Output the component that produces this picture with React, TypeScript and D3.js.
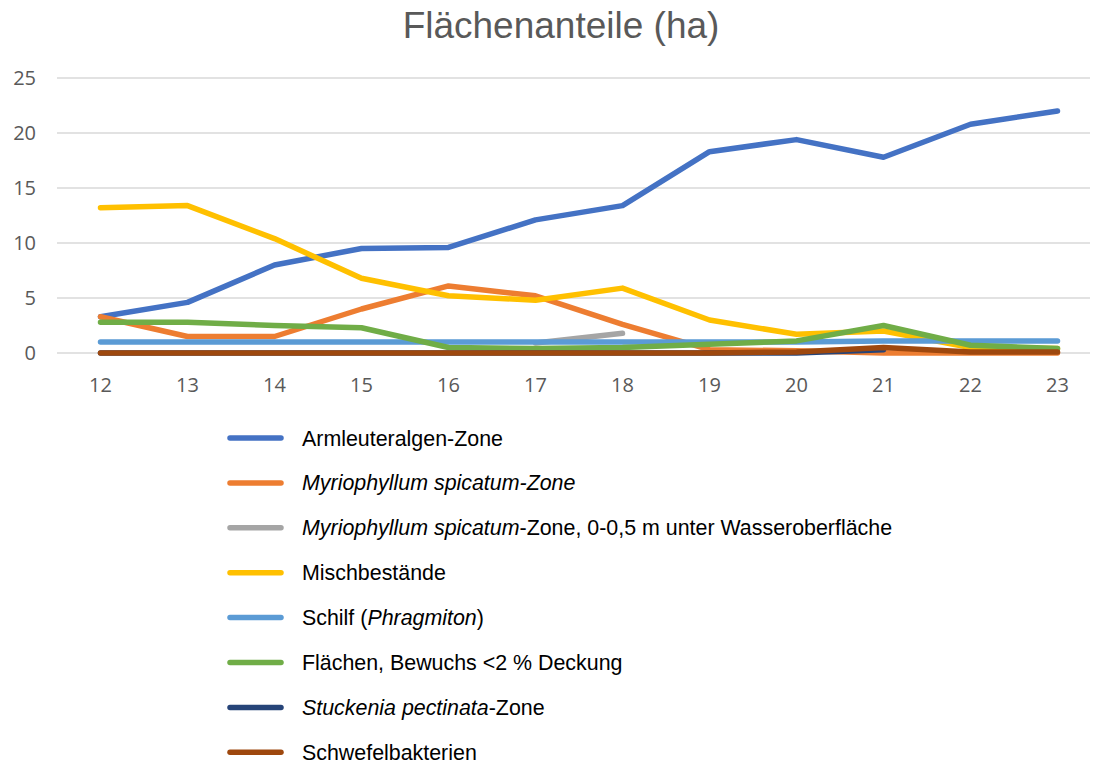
import * as d3 from "d3";
import { useEffect, useRef } from "react";

const years = ["12", "13", "14", "15", "16", "17", "18", "19", "20", "21", "22", "23"];
const yTicks = [0, 5, 10, 15, 20, 25];

const armleuteralgen = [3.3, 4.6, 8.0, 9.5, 9.6, 12.1, 13.4, 18.3, 19.4, 17.8, 20.8, 22.0];
const myriophyllum = [3.3, 1.5, 1.5, 4.0, 6.1, 5.2, 2.6, 0.3, 0.2, 0.0, 0.0, 0.0];
const myriophyllumShallow = [null, null, null, null, null, 0.9, 1.8, null, null, null, null, null];
const mischbestaende = [13.2, 13.4, 10.4, 6.8, 5.2, 4.8, 5.9, 3.0, 1.7, 2.0, 0.5, 0.4];
const schilf = [1.0, 1.0, 1.0, 1.0, 1.0, 1.0, 1.0, 1.0, 1.0, 1.1, 1.1, 1.1];
const flaechenBewuchs = [2.8, 2.8, 2.5, 2.3, 0.5, 0.4, 0.5, 0.8, 1.1, 2.5, 0.7, 0.4];
const stuckenia = [0, 0, 0, 0, 0, 0, 0, 0, 0.0, 0.3, null, null];
const schwefelbakterien = [0, 0, 0, 0, 0, 0, 0, 0, 0.1, 0.5, 0.1, 0.1];

type Part = { t: string; i?: boolean };

const series: { name: Part[]; color: string; values: (number | null)[] }[] = [
  { name: [{ t: "Armleuteralgen-Zone" }], color: "#4472C4", values: armleuteralgen },
  { name: [{ t: "Myriophyllum spicatum-Zone", i: true }], color: "#ED7D31", values: myriophyllum },
  {
    name: [{ t: "Myriophyllum spicatum", i: true }, { t: "-Zone, 0-0,5 m unter Wasseroberfläche" }],
    color: "#A5A5A5",
    values: myriophyllumShallow
  },
  { name: [{ t: "Mischbestände" }], color: "#FFC000", values: mischbestaende },
  { name: [{ t: "Schilf (" }, { t: "Phragmiton", i: true }, { t: ")" }], color: "#5B9BD5", values: schilf },
  { name: [{ t: "Flächen, Bewuchs <2 % Deckung" }], color: "#70AD47", values: flaechenBewuchs },
  { name: [{ t: "Stuckenia pectinata", i: true }, { t: "-Zone" }], color: "#264478", values: stuckenia },
  { name: [{ t: "Schwefelbakterien" }], color: "#9E480E", values: schwefelbakterien }
];

export default function App() {
  const ref = useRef<SVGSVGElement | null>(null);
  const width = 1094;
  const height = 767;

  useEffect(() => {
    if (!ref.current) return;
    const svg = d3.select(ref.current);
    svg.selectAll("*").remove();

    const x = d3.scaleBand().domain(years).range([57, 1101]);
    const cx = (c: string) => (x(c) ?? 0) + x.bandwidth() / 2;
    const y = d3.scaleLinear().domain([0, 25]).range([353, 78]);

    svg.append("rect").attr("width", width).attr("height", height).attr("fill", "#fff");

    svg.append("text")
      .attr("x", 561)
      .attr("y", 38)
      .attr("text-anchor", "middle")
      .attr("font-family", "Liberation Sans, Arial, sans-serif")
      .attr("font-size", 37)
      .attr("fill", "#595959")
      .text("Flächenanteile (ha)");

    // gridlines
    svg.append("g")
      .selectAll("line")
      .data(yTicks)
      .enter()
      .append("line")
      .attr("x1", 57)
      .attr("x2", 1090)
      .attr("y1", d => y(d))
      .attr("y2", d => y(d))
      .attr("stroke", "#d9d9d9")
      .attr("stroke-width", 1.5);

    // y ticks
    svg.append("g")
      .selectAll("text")
      .data(yTicks)
      .enter()
      .append("text")
      .attr("x", 36)
      .attr("y", d => y(d))
      .attr("dy", "0.35em")
      .attr("text-anchor", "end")
      .attr("font-family", "Open Sans, sans-serif")
      .attr("font-size", 20)
      .attr("fill", "#595959")
      .text(d => d);

    // x ticks
    svg.append("g")
      .selectAll("text")
      .data(years)
      .enter()
      .append("text")
      .attr("x", d => cx(d))
      .attr("y", 385)
      .attr("dy", "0.35em")
      .attr("text-anchor", "middle")
      .attr("font-family", "Open Sans, sans-serif")
      .attr("font-size", 20)
      .attr("fill", "#595959")
      .text(d => d);

    const line = d3.line<number | null>()
      .defined(d => d !== null)
      .x((_, i) => cx(years[i]))
      .y(d => y(d as number));

    svg.append("g")
      .selectAll("path")
      .data(series)
      .enter()
      .append("path")
      .attr("d", s => line(s.values))
      .attr("fill", "none")
      .attr("stroke", s => s.color)
      .attr("stroke-width", 5.5)
      .attr("stroke-linecap", "round")
      .attr("stroke-linejoin", "round");

    // legend
    const legend = svg.append("g")
      .selectAll("g")
      .data(series)
      .enter()
      .append("g")
      .attr("transform", (_, i) => `translate(0,${438 + i * 44.9})`);

    legend.append("line")
      .attr("x1", 230)
      .attr("x2", 281)
      .attr("stroke", s => s.color)
      .attr("stroke-width", 5.5)
      .attr("stroke-linecap", "round");

    const txt = legend.append("text")
      .attr("x", 302)
      .attr("dy", "0.35em")
      .attr("font-family", "Liberation Sans, Arial, sans-serif")
      .attr("font-size", 21.4)
      .attr("fill", "#000");

    txt.selectAll("tspan")
      .data(s => s.name)
      .enter()
      .append("tspan")
      .attr("font-style", p => (p.i ? "italic" : "normal"))
      .text(p => p.t);
  }, []);

  return (
    <svg
      ref={ref}
      width={width}
      height={height}
      style={{ position: "absolute", left: 0, top: 0 }}
    />
  );
}
